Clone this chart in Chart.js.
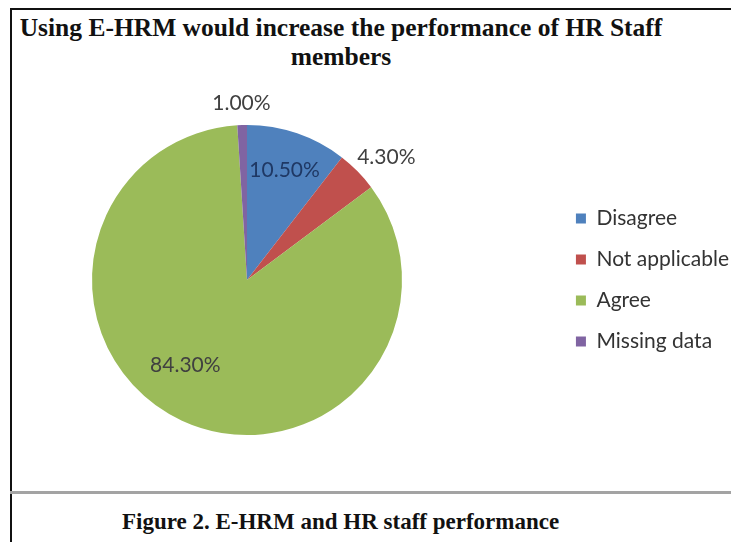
<!DOCTYPE html>
<html>

<head>
    <script src="https://cdn.jsdelivr.net/npm/chart.js"></script>
    <title>E-HRM and HR staff performance</title>
    <style>
        body { margin: 0; width: 731px; height: 542px; overflow: hidden; background: #fff; position: relative; }
        .frame { position: absolute; left: 10px; top: 8px; width: 740px; height: 560px; border-left: 2px solid #111; border-top: 2px solid #111; }
        .rule { position: absolute; left: 10px; top: 491px; width: 721px; height: 3px; background: #a3a3a3; }
        .title { position: absolute; left: 10px; top: 13px; width: 662px; margin: 0; text-align: center;
                 font: bold 25.5px "Liberation Serif", serif; line-height: 29px; color: #111; }
        .caption { position: absolute; left: 122px; top: 509px; margin: 0; font: bold 23px "Liberation Serif", serif; color: #111; }
        #chart { position: absolute; left: 0; top: 0; }
    </style>
</head>

<body>
    <div class="frame"></div>
    <div class="rule"></div>
    <h1 class="title">Using E-HRM would increase the performance of HR Staff<br>members</h1>
    <p class="caption">Figure 2. E-HRM and HR staff performance</p>
    <canvas id="chart" width="739" height="542"></canvas>

    <script>
        const categories = ['Disagree', 'Not applicable', 'Agree', 'Missing data'];
        const percentages = [10.5, 4.3, 84.3, 1.0];
        const sliceColors = ['#4f81bd', '#c0504d', '#9bbb59', '#8064a2'];

        // where each value label sits: fraction of radius, and angle nudge in degrees
        const labelDist = [0.75, 1.2, 0.68, 1.14];
        const labelNudge = [0, 3, 11, 0];
        const labelColors = ['#1f3864', '#404040', '#404040', '#404040'];

        // keep the pie square and left of the legend, like the Excel layout
        const squareArea = {
            id: 'squareArea',
            afterLayout(chart) {
                const a = chart.chartArea;
                a.right = a.left + a.height;
                a.width = a.height;
            }
        };

        const valueLabels = {
            id: 'valueLabels',
            afterDatasetsDraw(chart) {
                const ctx = chart.ctx;
                const meta = chart.getDatasetMeta(0);
                ctx.save();
                ctx.font = '21px Lato, "Open Sans", sans-serif';
                ctx.textAlign = 'center';
                ctx.textBaseline = 'middle';
                meta.data.forEach((arc, i) => {
                    const p = arc.getProps(['x', 'y', 'startAngle', 'endAngle', 'outerRadius'], true);
                    const mid = (p.startAngle + p.endAngle) / 2 + labelNudge[i] * Math.PI / 180;
                    const r = p.outerRadius * labelDist[i];
                    ctx.fillStyle = labelColors[i];
                    ctx.fillText(percentages[i].toFixed(2) + '%', p.x + Math.cos(mid) * r, p.y + Math.sin(mid) * r);
                });
                ctx.restore();
            }
        };

        new Chart(document.getElementById('chart'), {
            type: 'pie',
            data: {
                labels: categories,
                datasets: [{
                    data: percentages,
                    backgroundColor: sliceColors,
                    borderWidth: 0
                }]
            },
            options: {
                responsive: false,
                animation: false,
                layout: {
                    padding: { left: 92, top: 125, bottom: 107, right: 0 }
                },
                plugins: {
                    legend: {
                        position: 'right',
                        labels: {
                            boxWidth: 10,
                            boxHeight: 10,
                            padding: 20,
                            color: '#333',
                            font: { family: 'Lato, "Open Sans", sans-serif', size: 21 }
                        }
                    },
                    tooltip: { enabled: false }
                }
            },
            plugins: [squareArea, valueLabels]
        });
    </script>
</body>

</html>
